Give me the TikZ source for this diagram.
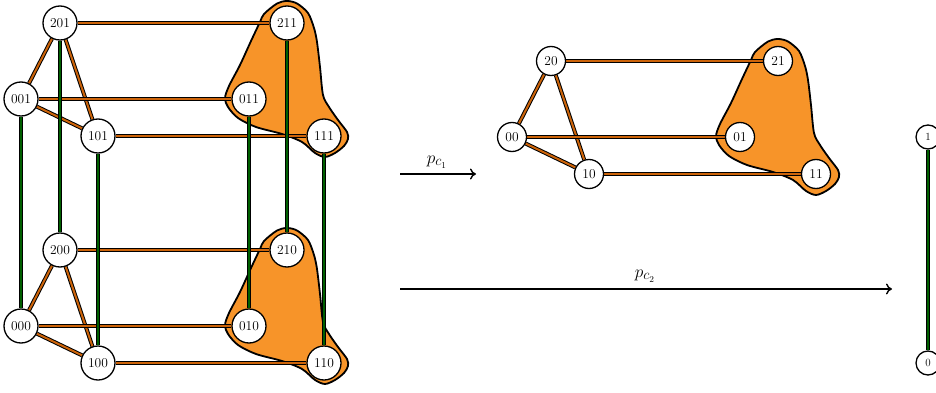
\documentclass[tikz,border=0pt]{standalone}
\usetikzlibrary{arrows.meta}
\definecolor{blobor}{RGB}{247,148,41}
\definecolor{edgeor}{RGB}{205,100,10}
\definecolor{edgegr}{RGB}{0,95,0}
\pgfdeclarelayer{blobs}
\pgfdeclarelayer{edges}
\pgfsetlayers{blobs,edges,main}
\tikzset{
 vtx/.style={circle, draw, line width=1.3pt, fill=white, inner sep=0pt, minimum size=34pt, font=\fontsize{13.5}{16}\selectfont},
 vtxm/.style={vtx, minimum size=29pt},
 vtxs/.style={vtx, minimum size=24pt, font=\fontsize{11}{13}\selectfont},
 eo/.style={line width=1pt, double=edgeor, double distance=2pt},
 eg/.style={line width=1pt, double=edgegr, double distance=2pt},
 blob/.style={draw, line width=1.8pt, fill=blobor, line join=round},
 maparrow/.style={line width=1.4pt, -{Computer Modern Rightarrow[length=6pt,width=11pt]}},
 maplabel/.style={font=\fontsize{19}{22}\selectfont}
}
\newcommand\myblob{\draw[blob] plot[smooth cycle, tension=0.5] coordinates {
 (264,14) (277,3.5) (287,1) (297,3.5) (308,13) (314,28) (317,42) (320,67) (323,95)
 (329,107) (338,120) (347,132) (348,139) (344,146) (335,153) (325,157) (315,153)
 (302,142) (282,134) (256,127) (238,118) (228,107) (225,98) (229,86) (240,65)
 (251,41) (260,22)};}
\begin{document}
\begin{tikzpicture}[x=1pt,y=-1pt]
\useasboundingbox (0,0) rectangle (936,393);
% blobs
\begin{pgfonlayer}{blobs}
\myblob
\begin{scope}[shift={(0,227)}]\myblob\end{scope}
\begin{scope}[shift={(491,38)}]\myblob\end{scope}
\end{pgfonlayer}
% cube nodes
\node[vtx] (n201) at (60,23) {201};
\node[vtx] (n211) at (287,23) {211};
\node[vtx] (n001) at (21,99) {001};
\node[vtx] (n011) at (249,99) {011};
\node[vtx] (n101) at (98,136) {101};
\node[vtx] (n111) at (324,136) {111};
\node[vtx] (n200) at (60,250) {200};
\node[vtx] (n210) at (287,250) {210};
\node[vtx] (n000) at (21,326) {000};
\node[vtx] (n010) at (249,326) {010};
\node[vtx] (n100) at (98,363) {100};
\node[vtx] (n110) at (324,363) {110};
% middle nodes
\node[vtxm] (m20) at (551,61) {20};
\node[vtxm] (m21) at (778,61) {21};
\node[vtxm] (m00) at (512,137) {00};
\node[vtxm] (m01) at (740,137) {01};
\node[vtxm] (m10) at (589,174) {10};
\node[vtxm] (m11) at (816,174) {11};
% right nodes
\node[vtxs] (r1) at (928,137) {1};
\node[vtxs] (r0) at (928,363) {0};
% edges
\begin{pgfonlayer}{edges}
% diagonals
\draw[eo] (n201) -- (n001);
\draw[eo] (n201) -- (n101);
\draw[eo] (n001) -- (n101);
\draw[eo] (n200) -- (n000);
\draw[eo] (n200) -- (n100);
\draw[eo] (n000) -- (n100);
\draw[eo] (m20) -- (m00);
\draw[eo] (m20) -- (m10);
\draw[eo] (m00) -- (m10);
% horizontals
\draw[eo] (n201) -- (n211);
\draw[eo] (n001) -- (n011);
\draw[eo] (n101) -- (n111);
\draw[eo] (n200) -- (n210);
\draw[eo] (n000) -- (n010);
\draw[eo] (n100) -- (n110);
\draw[eo] (m20) -- (m21);
\draw[eo] (m00) -- (m01);
\draw[eo] (m10) -- (m11);
% verticals
\draw[eg] (n201) -- (n200);
\draw[eg] (n001) -- (n000);
\draw[eg] (n101) -- (n100);
\draw[eg] (n211) -- (n210);
\draw[eg] (n011) -- (n010);
\draw[eg] (n111) -- (n110);
\draw[eg] (r1) -- (r0);
\end{pgfonlayer}
% maps
\coordinate (a1s) at (400,174);
\coordinate (a1e) at (476,174);
\coordinate (a2s) at (400,289);
\coordinate (a2e) at (892,289);
\draw[maparrow] (a1s) -- (a1e);
\node[maplabel] (l1) at (437,162) {$p_{c_1}$};
\draw[maparrow] (a2s) -- (a2e);
\node[maplabel] (l2) at (645,276) {$p_{c_2}$};
\end{tikzpicture}
\end{document}
